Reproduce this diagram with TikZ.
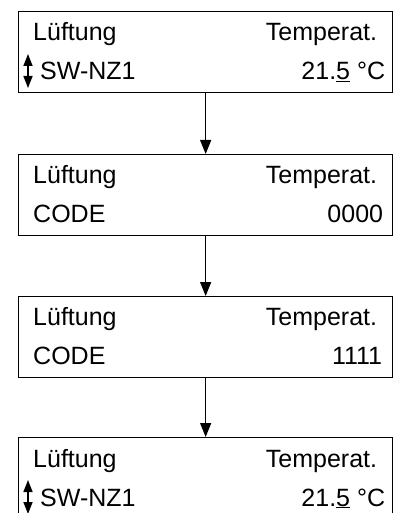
\documentclass[tikz,border=0pt]{standalone}
\usepackage{fontspec}
\setmainfont{Liberation Sans}
\usetikzlibrary{arrows.meta}
\tikzset{
  screen/.style={draw, line width=1.3pt, minimum width=374pt, minimum height=81pt,
    inner sep=0pt, anchor=north west},
  lbl/.style={inner sep=0pt, font=\fontsize{25pt}{30pt}\selectfont},
  flow/.style={line width=1.3pt, -{Triangle[width=11pt,length=14pt]}},
  updown/.style={line width=1.5pt, {Triangle[width=9pt,length=12pt]}-{Triangle[width=9pt,length=12pt]}}
}
\newcommand{\uline}[1]{\underline{#1}}
\begin{document}
\begin{tikzpicture}[x=1pt,y=-1pt]
\useasboundingbox (0,0) rectangle (400,513);
\clip (0,0) rectangle (400,513);

% display screens
\node[screen] (s1) at (18,11) {};
\node[screen] (s2) at (18,154) {};
\node[screen] (s3) at (18,296) {};
\node[screen] (s4) at (18,437) {};

% screen 1
\node[lbl, anchor=base west] (s1a) at ([xshift=15pt,yshift=-30pt]s1.north west) {Lüftung};
\node[lbl, anchor=base east] (s1b) at ([xshift=-16pt,yshift=-30pt]s1.north east) {Temperat.};
\node[lbl, anchor=base west] (s1c) at ([xshift=22pt,yshift=-69pt]s1.north west) {SW-NZ1};
\node[lbl, anchor=base east] (s1d) at ([xshift=-8pt,yshift=-69pt]s1.north east) {21.\uline{5} °C};
\coordinate (u1t) at ([xshift=10pt,yshift=-43pt]s1.north west);
\coordinate (u1b) at ([xshift=10pt,yshift=-77pt]s1.north west);
\draw[updown] (u1b) -- (u1t);

% screen 2
\node[lbl, anchor=base west] (s2a) at ([xshift=15pt,yshift=-29pt]s2.north west) {Lüftung};
\node[lbl, anchor=base east] (s2b) at ([xshift=-16pt,yshift=-29pt]s2.north east) {Temperat.};
\node[lbl, anchor=base west] (s2c) at ([xshift=15pt,yshift=-68pt]s2.north west) {CODE};
\node[lbl, anchor=base east] (s2d) at ([xshift=-10pt,yshift=-68pt]s2.north east) {0000};

% screen 3
\node[lbl, anchor=base west] (s3a) at ([xshift=15pt,yshift=-29pt]s3.north west) {Lüftung};
\node[lbl, anchor=base east] (s3b) at ([xshift=-16pt,yshift=-29pt]s3.north east) {Temperat.};
\node[lbl, anchor=base west] (s3c) at ([xshift=15pt,yshift=-68pt]s3.north west) {CODE};
\node[lbl, anchor=base east] (s3d) at ([xshift=-11pt,yshift=-68pt]s3.north east) {1111};

% screen 4
\node[lbl, anchor=base west] (s4a) at ([xshift=15pt,yshift=-30pt]s4.north west) {Lüftung};
\node[lbl, anchor=base east] (s4b) at ([xshift=-16pt,yshift=-30pt]s4.north east) {Temperat.};
\node[lbl, anchor=base west] (s4c) at ([xshift=22pt,yshift=-69pt]s4.north west) {SW-NZ1};
\node[lbl, anchor=base east] (s4d) at ([xshift=-8pt,yshift=-69pt]s4.north east) {21.\uline{5} °C};
\coordinate (u4t) at ([xshift=10pt,yshift=-43pt]s4.north west);
\coordinate (u4b) at ([xshift=10pt,yshift=-77pt]s4.north west);
\draw[updown] (u4b) -- (u4t);

% transitions
\draw[flow] (s1.south) -- (s2.north);
\draw[flow] (s2.south) -- (s3.north);
\draw[flow] (s3.south) -- (s4.north);
\end{tikzpicture}
\end{document}
